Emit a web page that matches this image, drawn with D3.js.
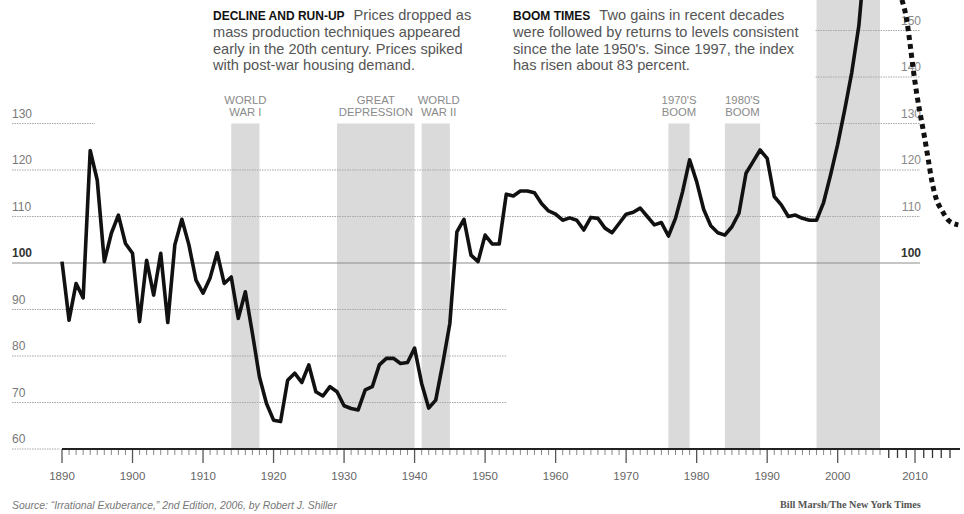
<!DOCTYPE html>
<html>
<head>
<meta charset="utf-8">
<script src="https://cdn.jsdelivr.net/npm/d3@7"></script>
<style>
  body { margin: 0; background: #fff; }
  svg { display: block; font-family: "Liberation Sans", Arial, Helvetica, sans-serif; }
</style>
</head>
<body>
<svg id="chart" width="964" height="514"></svg>
<script>
// home price index, 1890 = 100
const firstYear = 1890;
const indexValues = [
  100.3, 87.7, 95.6, 92.5, 124.2, 117.8, 100.3, 106.4, 110.3, 104.2,   // 1890s
  102.1, 87.4, 100.6, 93.1, 102.1, 87.2, 103.9, 109.4, 103.9, 96.3,    // 1900s
  93.5, 96.8, 102.2, 95.6, 97.0, 88.1, 93.8, 84.9, 75.5, 69.8,         // 1910s
  66.2, 65.9, 74.8, 76.3, 74.3, 78.1, 72.3, 71.4, 73.4, 72.3,          // 1920s
  69.3, 68.7, 68.4, 72.7, 73.4, 78.1, 79.5, 79.5, 78.4, 78.6,          // 1930s
  81.7, 74.1, 68.8, 70.5, 78.4, 87.0, 106.7, 109.4, 101.7, 100.3,      // 1940s
  106.0, 104.1, 104.1, 114.8, 114.4, 115.5, 115.5, 115.1, 112.8, 111.2, // 1950s
  110.5, 109.2, 109.7, 109.2, 107.1, 109.8, 109.6, 107.5, 106.5, 108.5, // 1960s
  110.5, 110.9, 111.8, 110.0, 108.2, 108.7, 105.8, 109.6, 115.3, 122.2, // 1970s
  117.5, 111.5, 108.0, 106.5, 106.0, 107.8, 110.7, 119.3, 121.8, 124.3, // 1980s
  122.5, 114.3, 112.5, 110.0, 110.3, 109.6, 109.2, 109.2, 113.0, 119.0, // 1990s
  125.5, 133.0, 141.0, 151.0, 168.0, 190.0, 200.0                       // 2000s
];

// dotted curve at the right edge
const dottedYears  = [2008.5, 2009.05, 2009.43, 2009.81, 2010.19, 2010.65, 2011.14, 2011.52, 2011.91, 2012.48, 2013.05, 2013.81, 2014.95];
const dottedValues = [156.6, 152.3, 147.2, 141.5, 136.5, 131.5, 126.5, 122.2, 117.8, 113.5, 111.4, 109.2, 108.2];

// shaded periods
const bandStart  = [1914, 1929, 1941, 1976, 1984, 1997];
const bandEnd    = [1918, 1940, 1945, 1979, 1989, 2006];
const bandLabels = [["WORLD", "WAR I"], ["GREAT", "DEPRESSION"], ["WORLD", "WAR II"], ["1970'S", "BOOM"], ["1980'S", "BOOM"], []];

const decadeLabels = [1890, 1900, 1910, 1920, 1930, 1940, 1950, 1960, 1970, 1980, 1990, 2000, 2010];
const leftTicks  = [60, 70, 80, 90, 100, 110, 120, 130];
const rightTicks = [100, 110, 120, 130, 140, 150];

const svg = d3.select("#chart");

const x = d3.scaleLinear().domain([1890, 2006, 2014]).range([62, 880, 950]);
const y = d3.scaleLinear().domain([60, 150]).range([449, 30.5]);

// bands
bandStart.forEach((s, i) => {
  const top = i === bandStart.length - 1 ? 0 : y(130);
  svg.append("rect")
    .attr("x", x(s)).attr("width", x(bandEnd[i]) - x(s))
    .attr("y", top).attr("height", y(60) - top)
    .attr("fill", "#dadada");
  const cx = (x(s) + x(bandEnd[i])) / 2 + (i === 2 ? 3 : 0);
  bandLabels[i].forEach((t, j) => {
    svg.append("text")
      .attr("x", cx).attr("y", 104 + j * 12)
      .attr("text-anchor", "middle")
      .attr("font-size", 11.3).attr("fill", "#8a8a8a")
      .text(t);
  });
});

// gridlines (various extents as in the print graphic)
const gridSpan = v => {
  if (v === 60) return [[12, 60]];
  if (v >= 70 && v <= 90) return [[12, 507]];
  if (v === 130) return [[12, 95], [x(1997) - 1, 920]];
  if (v >= 140) return [[x(1997) - 1, 920]];
  return [[12, 920]];
};
[60, 70, 80, 90, 100, 110, 120, 130, 140, 150].forEach(v => {
  gridSpan(v).forEach(([a, b]) => {
    svg.append("line")
      .attr("x1", a).attr("x2", b).attr("y1", y(v)).attr("y2", y(v))
      .attr("stroke", v === 100 ? "#8c8c8c" : "#a8a8a8")
      .attr("stroke-width", 1)
      .attr("stroke-dasharray", v === 100 ? null : "1.5,1");
  });
});

// left labels
svg.selectAll(".ylab-left").data(leftTicks).enter().append("text")
  .attr("x", 12).attr("y", d => y(d) - 6)
  .attr("font-size", 12)
  .attr("font-weight", d => d === 100 ? "bold" : "normal")
  .attr("fill", d => d === 100 ? "#333" : "#777")
  .text(d => d);

// right labels
svg.selectAll(".ylab-right").data(rightTicks).enter().append("text")
  .attr("x", 921).attr("y", d => y(d) - 6)
  .attr("text-anchor", "end")
  .attr("font-size", 12)
  .attr("font-weight", d => d === 100 ? "bold" : "normal")
  .attr("fill", d => d === 100 ? "#333" : "#888")
  .text(d => d);

// x axis
const axisY = y(60);
const minorYears = d3.range(1891, 2015).filter(d => d % 10 !== 0);
svg.selectAll(".minor").data(minorYears).enter().append("line")
  .attr("x1", d => x(d)).attr("x2", d => x(d))
  .attr("y1", axisY).attr("y2", d => d > 2006 ? axisY + 9 : axisY + 6)
  .attr("stroke", d => d > 2006 ? "#333" : "#888")
  .attr("stroke-width", d => d > 2006 ? 1.3 : 1);
svg.selectAll(".major").data(decadeLabels).enter().append("line")
  .attr("x1", d => x(d)).attr("x2", d => x(d))
  .attr("y1", axisY).attr("y2", axisY + 14)
  .attr("stroke", "#555").attr("stroke-width", 1.3);
svg.append("line")
  .attr("x1", x(1890)).attr("x2", 960)
  .attr("y1", axisY).attr("y2", axisY)
  .attr("stroke", "#222").attr("stroke-width", 2);
svg.selectAll(".xlab").data(decadeLabels).enter().append("text")
  .attr("x", d => x(d)).attr("y", 480)
  .attr("text-anchor", "middle")
  .attr("font-size", 11.5).attr("fill", "#666")
  .text(d => d);

// main line
const line = d3.line()
  .x((d, i) => x(firstYear + i))
  .y(d => y(d));
svg.append("path")
  .datum(indexValues)
  .attr("d", line)
  .attr("fill", "none")
  .attr("stroke", "#111")
  .attr("stroke-width", 3.6)
  .attr("stroke-linejoin", "round");

// dotted curve
const dotted = d3.line()
  .x((d, i) => x(dottedYears[i]))
  .y(d => y(d))
  .curve(d3.curveMonotoneX);
svg.append("path")
  .datum(dottedValues)
  .attr("d", dotted)
  .attr("fill", "none")
  .attr("stroke", "#111")
  .attr("stroke-width", 5)
  .attr("stroke-dasharray", "5,4");

// annotations
const notes = [
  { x: 213, head: "DECLINE AND RUN-UP", lines: ["Prices dropped as", "mass production techniques appeared", "early in the 20th century. Prices spiked", "with post-war housing demand."] },
  { x: 513, head: "BOOM TIMES", lines: ["Two gains in recent decades", "were followed by returns to levels consistent", "since the late 1950's. Since 1997, the index", "has risen about 83 percent."] }
];
notes.forEach(n => {
  const t = svg.append("text").attr("font-size", 14.6).attr("fill", "#555");
  t.append("tspan").attr("x", n.x).attr("y", 20)
    .attr("font-size", 12).attr("font-weight", "bold").attr("fill", "#111")
    .text(n.head);
  t.append("tspan").attr("dx", 9).text(n.lines[0]);
  n.lines.slice(1).forEach((l, i) => {
    t.append("tspan").attr("x", n.x).attr("y", 20 + (i + 1) * 16.8).text(l);
  });
});

// credits
svg.append("text")
  .attr("x", 12).attr("y", 509)
  .attr("font-size", 10.4).attr("font-style", "italic").attr("fill", "#777")
  .text("Source: \u201cIrrational Exuberance,\u201d 2nd Edition, 2006, by Robert J. Shiller");
svg.append("text")
  .attr("x", 780).attr("y", 508)
  .attr("font-family", "\"Liberation Serif\", \"Times New Roman\", serif")
  .attr("font-size", 10.2).attr("font-weight", "bold").attr("fill", "#555")
  .text("Bill Marsh/The New York Times");
</script>
</body>
</html>
